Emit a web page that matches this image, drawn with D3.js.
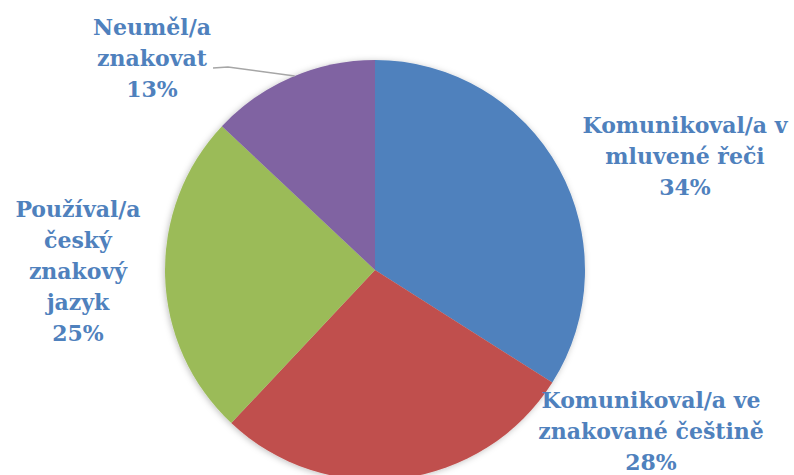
<!DOCTYPE html>
<html>
<head>
<meta charset="utf-8">
<script src="https://cdn.jsdelivr.net/npm/d3@7"></script>
<style>
  body { margin: 0; background: #fff; }
  svg { display: block; }
</style>
</head>
<body>
<div class="chartArea"></div>
<script>
// chart data
const categories = ['Komunikoval/a v mluvené řeči', 'Komunikoval/a ve znakované češtině', 'Používal/a český znakový jazyk', 'Neuměl/a znakovat']
const values = [34, 28, 25, 13]
const labelLines = [
  ['Komunikoval/a v', 'mluvené řeči'],
  ['Komunikoval/a ve', 'znakované češtině'],
  ['Používal/a', 'český', 'znakový', 'jazyk'],
  ['Neuměl/a', 'znakovat']
]
const colors = ['#4f81bd', '#c0504d', '#9bbb59', '#8064a2']

let width = 794,
    height = 475,
    cx = 375,
    cy = 270,
    radius = 210,
    lineHeight = 31

// where each label block sits (center x, first baseline y)
const labelPos = [[685, 133], [651, 408], [78, 217], [152, 35]]

const data = categories.map((c, i) => ({ name: c, value: values[i], lines: labelLines[i].concat([values[i] + '%']) }))

const svg = d3.select('.chartArea')
    .append('svg')
    .attr('width', width)
    .attr('height', height)

const defs = svg.append('defs')
const filter = defs.append('filter').attr('id', 'shadow')
    .attr('x', '-10%').attr('y', '-10%').attr('width', '120%').attr('height', '120%')
filter.append('feDropShadow')
    .attr('dx', -1).attr('dy', 1).attr('stdDeviation', 3)
    .attr('flood-color', '#000').attr('flood-opacity', 0.25)

const pie = d3.pie().sort(null).value(d => d.value)
const arc = d3.arc().innerRadius(0).outerRadius(radius)

const chart = svg.append('g')
    .attr('transform', `translate(${cx}, ${cy})`)

const slices = chart.append('g').attr('filter', 'url(#shadow)')
slices.selectAll('path')
    .data(pie(data))
    .enter()
    .append('path')
    .attr('d', arc)
    .attr('fill', (d, i) => colors[i])

// leader line for the small slice: ends on the rim, about halfway along it
const small = pie(data)[3]
const a = small.startAngle + (small.endAngle - small.startAngle) * 0.52
const rimX = cx + radius * Math.sin(a),
      rimY = cy - radius * Math.cos(a)
svg.append('polyline')
    .attr('points', `213,68 228,67 ${rimX},${rimY}`)
    .attr('fill', 'none')
    .attr('stroke', '#a6a6a6')
    .attr('stroke-width', 1.5)

// labels
data.forEach((d, i) => {
  const t = svg.append('text')
      .attr('text-anchor', 'middle')
      .attr('font-family', '"DejaVu Serif", serif')
      .attr('font-weight', 'bold')
      .attr('font-size', 22)
      .attr('fill', '#4f81bd')
  d.lines.forEach((l, j) => {
    t.append('tspan')
        .attr('x', labelPos[i][0])
        .attr('y', labelPos[i][1] + j * lineHeight)
        .text(l)
  })
})
</script>
</body>
</html>
